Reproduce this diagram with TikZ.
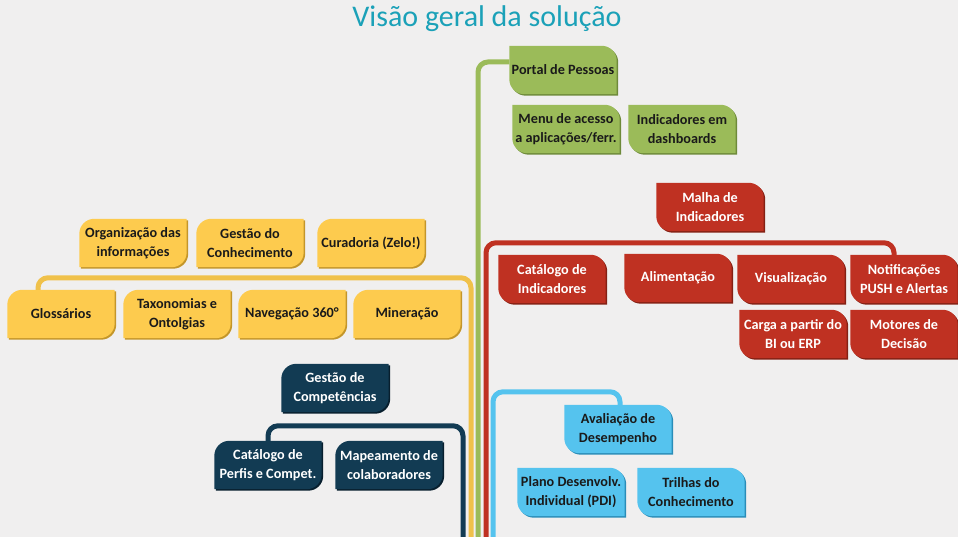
\documentclass[tikz,border=0pt]{standalone}
\usepackage{fontspec}
\setmainfont{Carlito}
\usetikzlibrary{backgrounds}

\definecolor{bgcol}{HTML}{F0EFEF}
\definecolor{titlecol}{HTML}{1BA1B8}
\definecolor{gfill}{HTML}{9BBB59}
\definecolor{gshad}{HTML}{6E8A3A}
\definecolor{rfill}{HTML}{BF3122}
\definecolor{rshad}{HTML}{842014}
\definecolor{yfill}{HTML}{FDCB4E}
\definecolor{yshad}{HTML}{C4962A}
\definecolor{dfill}{HTML}{123B53}
\definecolor{dshad}{HTML}{081F2E}
\definecolor{bfill}{HTML}{55C3EE}
\definecolor{bshad}{HTML}{2A8DB8}
\definecolor{txt}{HTML}{1A1A1A}

\tikzset{
  box/.style={minimum width=107pt, minimum height=48pt, inner sep=0pt, align=center,
    font=\bfseries\fontsize{14.2}{18.5}\selectfont},
  dark/.style={box, text=txt},
  light/.style={box, text=white},
  branch/.style={line width=5pt, rounded corners=10pt}
}

% rounded top right and bottom left
\newcommand{\boxNE}[3]{%
  \fill[#3, transform canvas={shift={(1.5pt,-1.5pt)}}] (#1.north west) -- ([xshift=-15pt]#1.north east) arc[start angle=90,end angle=0,radius=15pt] -- (#1.south east) -- ([xshift=15pt]#1.south west) arc[start angle=270,end angle=180,radius=15pt] -- cycle;
  \fill[#2] (#1.north west) -- ([xshift=-15pt]#1.north east) arc[start angle=90,end angle=0,radius=15pt] -- (#1.south east) -- ([xshift=15pt]#1.south west) arc[start angle=270,end angle=180,radius=15pt] -- cycle;}
% rounded top left and bottom right
\newcommand{\boxNW}[3]{%
  \fill[#3, transform canvas={shift={(1.5pt,-1.5pt)}}] ([xshift=15pt]#1.north west) -- (#1.north east) -- ([yshift=15pt]#1.south east) arc[start angle=0,end angle=-90,radius=15pt] -- (#1.south west) -- ([yshift=-15pt]#1.north west) arc[start angle=180,end angle=90,radius=15pt] -- cycle;
  \fill[#2] ([xshift=15pt]#1.north west) -- (#1.north east) -- ([yshift=15pt]#1.south east) arc[start angle=0,end angle=-90,radius=15pt] -- (#1.south west) -- ([yshift=-15pt]#1.north west) arc[start angle=180,end angle=90,radius=15pt] -- cycle;}

\begin{document}
\begin{tikzpicture}[x=1pt,y=1pt]
\useasboundingbox (0,0) rectangle (958,537);

\node[font=\fontsize{30}{34}\selectfont, text=titlecol, anchor=base] (title) at (487,510) {Visão geral da solução};

% green
\node[dark] (portal) at (563,467) {Portal de Pessoas};
\node[dark] (menu) at (566,408) {Menu de acesso\\a aplicações/ferr.};
\node[dark] (dash) at (682,408) {Indicadores em\\dashboards};

% red
\node[light] (malha) at (710,330) {Malha de\\Indicadores};
\node[light] (catind) at (552,258) {Catálogo de\\Indicadores};
\node[light] (alim) at (678,259) {Alimentação};
\node[light] (visu) at (791,258) {Visualização};
\node[light] (notif) at (904,258) {Notificações\\PUSH e Alertas};
\node[light] (carga) at (793,203) {Carga a partir do\\BI ou ERP};
\node[light] (motor) at (904,203) {Motores de\\Decisão};

% yellow
\node[dark] (org) at (133,294) {Organização das\\informações};
\node[dark] (gest) at (250,294) {Gestão do\\Conhecimento};
\node[dark] (cura) at (371,294) {Curadoria (Zelo!)};
\node[dark] (glos) at (61,223) {Glossários};
\node[dark] (taxo) at (177,223) {Taxonomias e\\Ontolgias};
\node[dark] (nave) at (292,223) {Navegação 360°};
\node[dark] (mine) at (407,223) {Mineração};

% dark blue
\node[light] (comp) at (335,149) {Gestão de\\Competências};
\node[light] (catperf) at (268,72) {Catálogo de\\Perfis e Compet.};
\node[light] (mapa) at (389,72) {Mapeamento de\\colaboradores};

% light blue
\node[dark] (aval) at (618,108) {Avaliação de\\Desempenho};
\node[dark] (pdi) at (571,45) {Plano Desenvolv.\\Individual (PDI)};
\node[dark] (trilha) at (691,45) {Trilhas do\\Conhecimento};

\begin{scope}[on background layer]
\fill[bgcol] (0,0) rectangle (958,537);
\foreach \n in {portal,menu,dash} \boxNE{\n}{gfill}{gshad};
\foreach \n in {malha,catind,alim,visu,notif,carga,motor} \boxNE{\n}{rfill}{rshad};
\foreach \n in {aval,pdi,trilha} \boxNE{\n}{bfill}{bshad};
\foreach \n in {org,gest,cura,glos,taxo,nave,mine} \boxNW{\n}{yfill}{yshad};
\foreach \n in {comp,catperf,mapa} \boxNW{\n}{dfill}{dshad};
\end{scope}

\coordinate (dbot) at (463,0);
\coordinate (ybot) at (471,0);
\coordinate (gbot) at (478,0);
\coordinate (rbot) at (486,0);
\coordinate (bbot) at (493,0);

\draw[branch, dfill] (dbot) |- ([yshift=15pt]catperf.north) -- (catperf.north);
\draw[branch, yfill!95!black] (ybot) |- ([xshift=-23pt,yshift=12pt]glos.north) -- ([xshift=-23pt]glos.north);
\draw[branch, gfill] (gbot) |- ([yshift=8pt]portal.west);
\draw[branch, rfill] (rbot) |- ([xshift=-10pt,yshift=12pt]notif.north) -- ([xshift=-10pt]notif.north);
\draw[branch, bfill] (bbot) |- ([xshift=2pt,yshift=13pt]aval.north) -- ([xshift=2pt]aval.north);

\end{tikzpicture}
\end{document}
